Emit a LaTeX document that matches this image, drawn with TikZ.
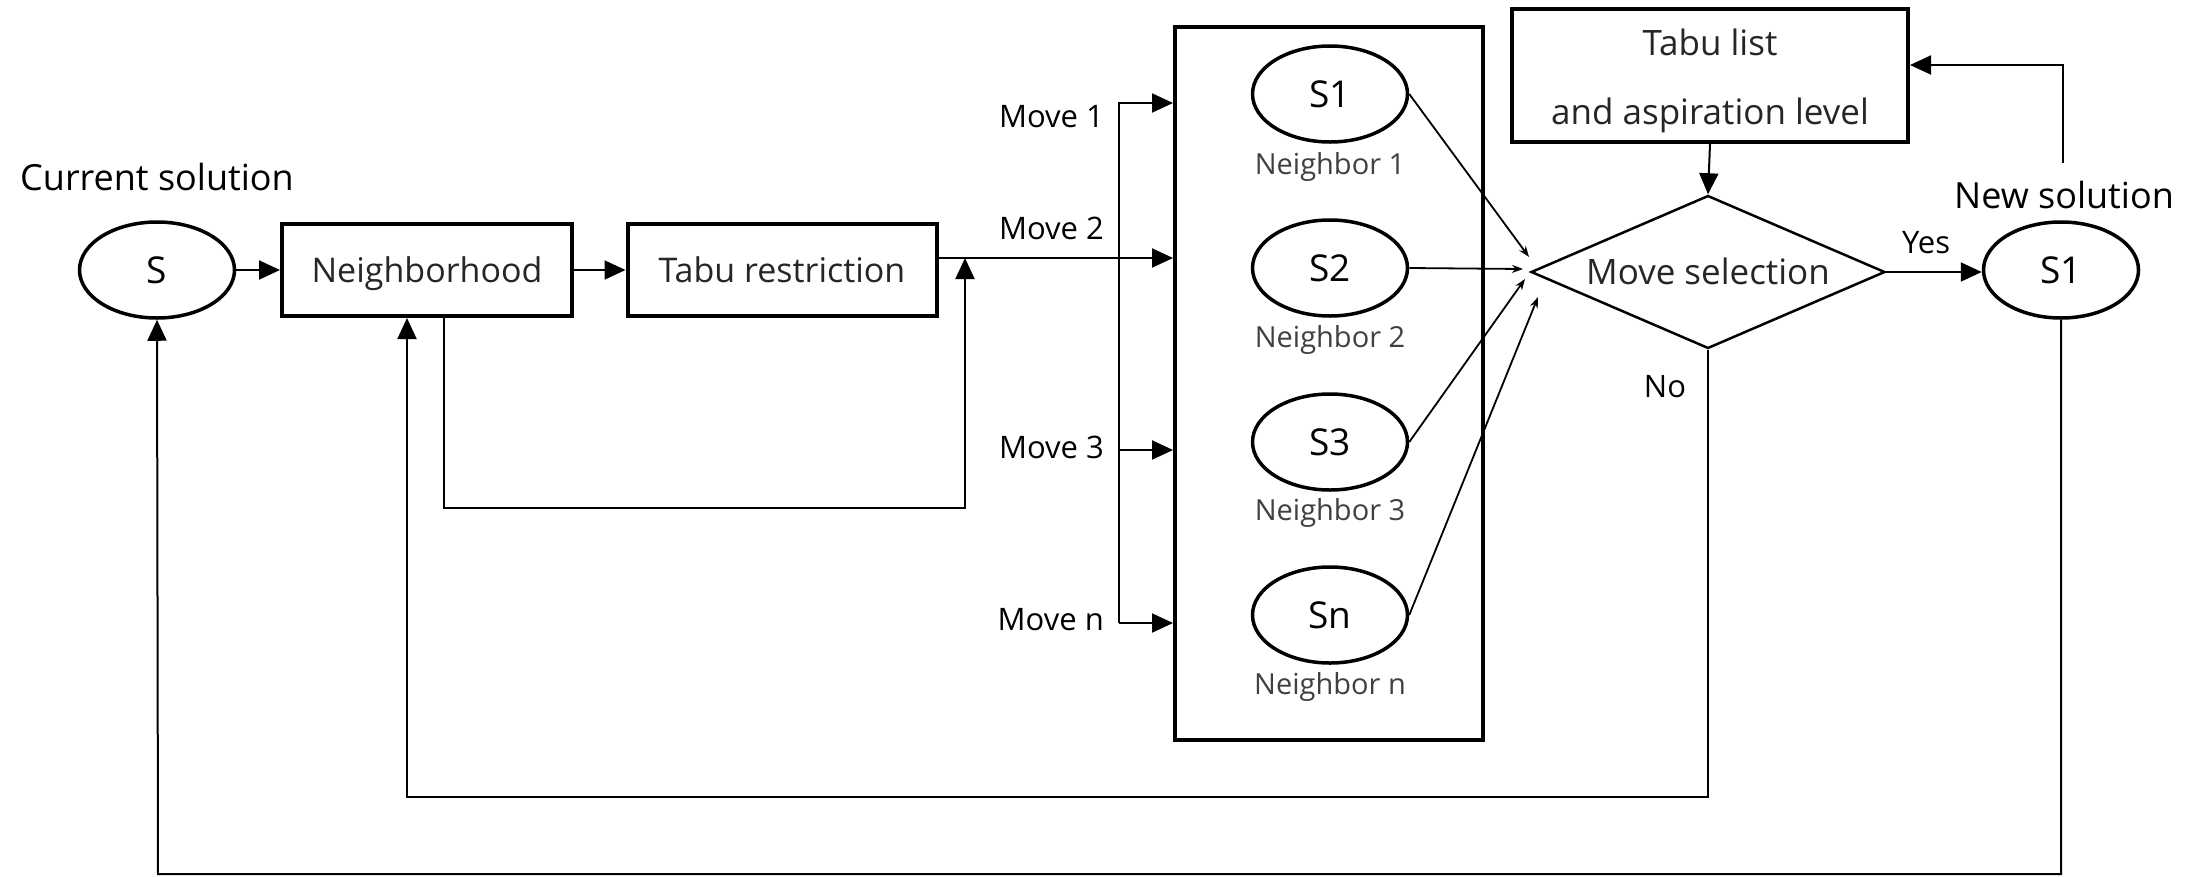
\documentclass[tikz,border=0pt]{standalone}
\usepackage{fontspec}
\setmainfont{Open Sans}
\usetikzlibrary{arrows.meta,shapes.geometric,calc}
\begin{document}
\begin{tikzpicture}[x=1pt,y=-1pt,
  conn/.style={line width=2pt},
  arr/.style={conn,-{Triangle[length=21pt,width=19pt]}},
  thinarr/.style={line width=1.8pt,-{Stealth[length=11pt,width=8pt]}},
  box/.style={draw,line width=4pt,rectangle,inner sep=0pt,font=\fontsize{34}{40}\selectfont,text=black!85},
  ctext/.style={text height=29pt,text depth=5pt},
  ell/.style={draw,ellipse,line width=3.5pt,minimum width=155pt,minimum height=96pt,inner sep=0pt,font=\fontsize{37}{44}\selectfont},
  lab/.style={inner sep=0pt,font=\fontsize{36}{43}\selectfont},
  mv/.style={inner sep=0pt,anchor=east,font=\fontsize{31}{37}\selectfont},
  yn/.style={inner sep=0pt,font=\fontsize{31}{37}\selectfont},
  nbl/.style={inner sep=0pt,font=\fontsize{29}{35}\selectfont,text=black!75},
]
\useasboundingbox (0,0) rectangle (2200,876);

% left part
\node[lab] (curl) at (157,177) {Current solution};
\node[ell] (s) at (157,270) {S};
\node[box,ctext,minimum width=290pt,minimum height=92pt] (nb) at (427,270) {Neighborhood};
\node[box,ctext,minimum width=309pt,minimum height=92pt] (tr) at (782,270) {Tabu restriction};

% neighbor box
\node[draw,line width=4pt,minimum width=308pt,minimum height=713pt,inner sep=0pt] (bb) at (1329,383.5) {};
\node[ell] (n1) at (1330,94) {S1};
\node[ell] (n2) at (1330,268) {S2};
\node[ell] (n3) at (1330,442) {S3};
\node[ell] (n4) at (1330,615) {Sn};
\node[nbl] (nl1) at (1330,167) {Neighbor 1};
\node[nbl] (nl2) at (1330,340) {Neighbor 2};
\node[nbl] (nl3) at (1330,513) {Neighbor 3};
\node[nbl] (nl4) at (1330,687) {Neighbor n};

% move labels
\node[mv] (m1l) at (1104,117) {Move 1};
\node[mv] (m2l) at (1104,228) {Move 2};
\node[mv] (m3l) at (1104,447) {Move 3};
\node[mv] (mnl) at (1104,620) {Move n};

% right part
\node[box,minimum width=396pt,minimum height=133pt,align=center,font=\fontsize{35}{69}\selectfont] (tl) at (1710,75.5) {\rule{0pt}{38pt}Tabu list\\and aspiration level};
\node[draw,diamond,text height=30pt,text depth=5pt,line width=2.5pt,aspect=2.3,inner sep=0pt,minimum width=354pt,minimum height=153pt,font=\fontsize{35}{42}\selectfont,text=black!85] (ms) at (1708,272) {Move selection};
\node[ell] (ns) at (2061,270) {S1};
\node[lab] (nsl) at (2064,195) {New solution};
\node[yn] (yes) at (1926,243) {Yes};
\node[yn] (no) at (1665,387) {No};

% coordinates
\coordinate (b1) at (1119,103);
\coordinate (b2) at (1119,258);
\coordinate (b3) at (1119,450);
\coordinate (bn) at (1119,623);
\coordinate (lp1) at (444,508);
\coordinate (lp2) at (965,508);
\coordinate (c1) at (1529,257);
\coordinate (c2) at (1523,269);
\coordinate (c3) at (1525,279);
\coordinate (c4) at (1538,297);
\coordinate (fb) at (2063,163);
\coordinate (fc) at (2063,65);
\coordinate (nlc) at (407,797);
\coordinate (blc) at (158,874);

% connectors
\draw[arr] (s) -- (nb);
\draw[arr] (nb) -- (tr);
\draw[arr] (tr.east |- b2) -- (bb.west |- b2);
\draw[arr] (bn) -- (b1) -- (bb.west |- b1);
\draw[arr] (b3) -- (bb.west |- b3);
\draw[arr] (bn) -- (bb.west |- bn);
\draw[arr] (nb.south -| lp1) -- (lp1) -- (lp2) -- (lp2 |- b2);

\draw[thinarr] (n1.east) -- (c1);
\draw[thinarr] (n2.east) -- (c2);
\draw[thinarr] (n3.east) -- (c3);
\draw[thinarr] (n4.east) -- (c4);

\draw[arr] (tl.south) -- (ms.north);
\draw[arr] (ms.east) -- (ms.east -| ns.west);
\draw[arr] (fb) -- (fc) -- (fc -| tl.east);
\draw[arr] (ms.south) -- (ms.south |- nlc) -- (nlc) -- (nlc |- nb.south);
\draw[arr] (ns.south) -- (ns.south |- blc) -- (blc) -- (s.south);
\end{tikzpicture}
\end{document}
